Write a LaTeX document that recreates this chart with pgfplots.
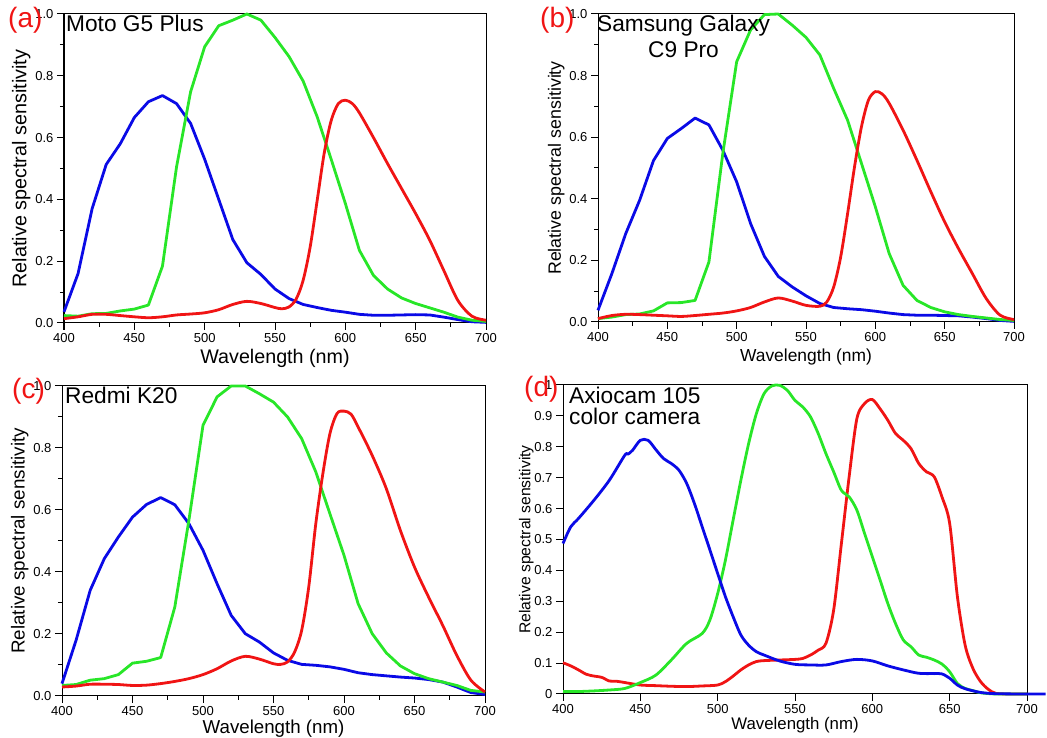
\documentclass[border=0pt]{standalone}
\usepackage{fontspec}
\setmainfont{Liberation Sans}
\usepackage{pgfplots}
\pgfplotsset{compat=1.18}
\definecolor{cred}{RGB}{240,20,20}
\definecolor{cgreen}{RGB}{40,230,40}
\definecolor{cblue}{RGB}{10,10,230}

\pgfplotsset{
  panel/.style={
    scale only axis, anchor=south west, clip=false,
    xmin=400, xmax=700, ymin=0, ymax=1,
    xtick={400,450,...,700},
    tick pos=left, tick align=outside,
    major tick length=7pt, minor tick length=4pt,
    every tick/.style={black, line width=1pt},
    axis line style={line width=1pt},
    /pgf/number format/assume math mode=true,
    tick label style={font=\fontsize{13}{15}\selectfont},
    xlabel={Wavelength (nm)}, ylabel={Relative spectral sensitivity},
    every axis plot/.append style={line width=2.8pt, line join=round},
  },
  phone/.style={
    panel,
    minor xtick={425,475,...,675},
    ytick={0,0.2,0.4,0.6,0.8,1.0}, minor ytick={0.1,0.3,0.5,0.7,0.9},
    yticklabel style={/pgf/number format/.cd, fixed, fixed zerofill, precision=1},
  },
}

\begin{document}
\begin{tikzpicture}
\useasboundingbox (0pt,0pt) rectangle (1047pt,738pt);

% (a) Moto G5 Plus
\begin{axis}[phone, at={(64pt,415pt)}, width=422pt, height=309pt,
  xlabel style={font=\fontsize{19.7}{22}\selectfont},
  ylabel style={font=\fontsize{19.8}{22}\selectfont}, ylabel shift=-2pt]
\addplot[cblue] table {
400 0.036
410 0.16
420 0.37
430 0.513
440 0.58
450 0.665
460 0.716
470 0.736
480 0.71
490 0.646
500 0.53
510 0.40
520 0.27
530 0.195
540 0.157
550 0.11
560 0.079
570 0.06
580 0.05
590 0.041
600 0.035
610 0.028
620 0.025
630 0.025
640 0.026
650 0.027
660 0.026
670 0.019
680 0.011
690 0.004
700 0.002
};
\addplot[cgreen] table {
400 0.024
410 0.022
420 0.03
430 0.031
440 0.039
450 0.045
460 0.058
470 0.184
480 0.505
490 0.748
500 0.894
510 0.962
520 0.98
530 1.0
540 0.98
550 0.924
560 0.862
570 0.783
580 0.667
590 0.529
600 0.387
610 0.235
620 0.154
630 0.11
640 0.081
650 0.063
660 0.049
670 0.035
680 0.019
690 0.009
700 0.005
};
\addplot[cred, smooth] table {
400 0.014
410 0.02
420 0.028
430 0.028
440 0.024
450 0.02
460 0.017
470 0.02
480 0.026
490 0.029
500 0.033
510 0.043
520 0.06
530 0.07
540 0.063
550 0.05
555 0.046
560 0.052
565 0.077
570 0.138
575 0.246
580 0.397
585 0.55
590 0.656
595 0.71
600 0.721
605 0.71
610 0.68
620 0.60
630 0.516
640 0.435
650 0.354
660 0.268
670 0.17
680 0.073
690 0.022
700 0.009
};
\end{axis}

% (b) Samsung Galaxy C9 Pro
\begin{axis}[phone, at={(598pt,416pt)}, width=416pt, height=308pt,
  xlabel style={font=\fontsize{17.4}{20}\selectfont},
  ylabel style={font=\fontsize{17.8}{20}\selectfont}, ylabel shift=-2pt]
\addplot[cblue] table {
400 0.038
410 0.157
420 0.287
430 0.395
440 0.524
450 0.596
460 0.628
470 0.662
480 0.64
490 0.558
500 0.455
510 0.32
520 0.213
530 0.148
540 0.114
550 0.085
560 0.06
570 0.047
580 0.043
590 0.04
600 0.035
610 0.029
620 0.024
630 0.022
640 0.022
650 0.021
660 0.02
670 0.016
680 0.011
690 0.005
700 0.002
};
\addplot[cgreen] table {
400 0.011
410 0.016
420 0.024
430 0.026
440 0.036
450 0.062
460 0.063
470 0.07
480 0.195
490 0.547
500 0.845
510 0.948
520 0.998
530 1.0
540 0.964
550 0.924
560 0.867
570 0.758
580 0.655
590 0.515
600 0.374
610 0.222
620 0.119
630 0.07
640 0.047
650 0.033
660 0.024
670 0.018
680 0.013
690 0.008
700 0.005
};
\addplot[cred, smooth] table {
400 0.011
410 0.021
420 0.025
430 0.024
440 0.022
450 0.02
460 0.018
470 0.021
480 0.025
490 0.029
500 0.036
510 0.047
520 0.065
530 0.078
540 0.068
550 0.054
560 0.051
565 0.065
570 0.114
575 0.211
580 0.352
585 0.504
590 0.634
595 0.72
600 0.748
605 0.74
610 0.71
620 0.623
630 0.525
640 0.423
650 0.325
660 0.238
670 0.157
680 0.076
690 0.022
700 0.008
};
\end{axis}

% (c) Redmi K20
\begin{axis}[phone, at={(62pt,42pt)}, width=423pt, height=310pt,
  xlabel style={font=\fontsize{18.7}{21}\selectfont}, xlabel shift=-3pt,
  ylabel style={font=\fontsize{18.8}{21}\selectfont}, ylabel shift=-2pt]
\addplot[cblue] table {
400 0.04
410 0.18
420 0.341
430 0.443
440 0.513
450 0.577
460 0.618
470 0.64
480 0.617
490 0.556
500 0.47
510 0.362
520 0.26
530 0.201
540 0.174
550 0.139
560 0.115
570 0.102
580 0.099
590 0.094
600 0.086
610 0.075
620 0.069
630 0.065
640 0.061
650 0.058
660 0.053
670 0.045
680 0.029
690 0.011
700 0.005
};
\addplot[cgreen] table {
400 0.034
410 0.037
420 0.051
430 0.056
440 0.069
450 0.106
460 0.112
470 0.124
480 0.287
490 0.567
500 0.873
510 0.965
520 1.0
530 1.0
540 0.975
550 0.948
560 0.9
570 0.83
580 0.723
590 0.588
600 0.454
610 0.298
620 0.201
630 0.139
640 0.097
650 0.072
660 0.056
670 0.045
680 0.034
690 0.018
700 0.013
};
\addplot[cred, smooth] table {
400 0.029
410 0.032
420 0.038
430 0.038
440 0.037
450 0.034
460 0.035
470 0.04
480 0.047
490 0.056
500 0.069
510 0.088
520 0.113
530 0.128
540 0.119
550 0.104
555 0.102
560 0.11
565 0.142
570 0.212
575 0.352
580 0.556
585 0.717
590 0.846
595 0.911
600 0.919
605 0.909
610 0.868
620 0.776
630 0.669
640 0.534
650 0.416
660 0.319
670 0.228
680 0.131
690 0.051
700 0.013
};
\end{axis}

% (d) Axiocam 105
\begin{axis}[panel, at={(563pt,44pt)}, width=464pt, height=309pt,
  ytick={0,0.1,0.2,0.3,0.4,0.5,0.6,0.7,0.8,0.9,1},
  xlabel style={font=\fontsize{16.8}{19}\selectfont}, xlabel shift=-3pt,
  ylabel style={font=\fontsize{15.7}{18}\selectfont}, ylabel shift=-6pt,
  every axis plot/.append style={smooth, tension=0.5}]
\addplot[cred] table {
400 0.101
405 0.091
410 0.078
415 0.064
420 0.058
425 0.054
430 0.042
435 0.041
440 0.037
450 0.029
460 0.027
470 0.025
480 0.024
490 0.026
500 0.029
505 0.04
510 0.058
515 0.078
520 0.094
525 0.105
530 0.108
540 0.11
550 0.112
555 0.115
560 0.126
565 0.142
570 0.164
575 0.272
580 0.487
585 0.703
590 0.891
595 0.94
600 0.953
605 0.923
610 0.886
615 0.843
620 0.821
625 0.794
630 0.746
635 0.719
640 0.703
645 0.638
650 0.552
655 0.315
660 0.158
665 0.083
670 0.04
675 0.015
680 0.002
690 0
700 0
};
\addplot[cgreen] table {
400 0.008
410 0.008
420 0.01
430 0.013
440 0.018
450 0.037
460 0.061
470 0.11
480 0.164
490 0.196
495 0.24
500 0.325
505 0.433
510 0.563
515 0.692
520 0.81
525 0.907
530 0.972
535 0.997
540 0.999
545 0.983
550 0.95
555 0.929
560 0.897
565 0.843
570 0.778
575 0.719
580 0.659
585 0.638
590 0.595
595 0.519
600 0.444
605 0.369
610 0.293
615 0.228
620 0.175
625 0.153
630 0.126
635 0.119
640 0.11
645 0.097
650 0.072
655 0.034
660 0.018
665 0.011
670 0.004
680 0
700 0
};
\addplot[cblue] table {
400 0.487
405 0.541
410 0.568
420 0.627
430 0.692
440 0.773
442 0.776
445 0.789
450 0.821
455 0.821
460 0.791
465 0.762
470 0.746
475 0.724
480 0.681
485 0.616
490 0.541
495 0.466
500 0.39
505 0.315
510 0.25
515 0.191
520 0.158
525 0.137
530 0.126
540 0.107
550 0.096
560 0.094
570 0.094
580 0.105
590 0.112
600 0.107
610 0.091
620 0.078
630 0.067
640 0.066
645 0.065
650 0.051
655 0.029
660 0.017
670 0.005
680 0.001
700 0
712 0
};
\end{axis}

\begin{scope}[every node/.style={inner sep=0pt, anchor=base west}]
\node[cred, font=\fontsize{28}{30}\selectfont] at (8pt,710pt) {(a)};
\node[cred, font=\fontsize{28}{30}\selectfont] at (540pt,710pt) {(b)};
\node[cred, font=\fontsize{28}{30}\selectfont] at (12pt,339pt) {(c)};
\node[cred, font=\fontsize{28}{30}\selectfont] at (524pt,341pt) {(d)};
\node[font=\fontsize{22.7}{25}\selectfont] at (66pt,706pt) {Moto G5 Plus};
\node[font=\fontsize{22.7}{25}\selectfont] at (597pt,706pt) {Samsung Galaxy};
\node[font=\fontsize{22.7}{25}\selectfont] at (648pt,680pt) {C9 Pro};
\node[font=\fontsize{22.7}{25}\selectfont] at (65pt,334pt) {Redmi K20};
\node[font=\fontsize{22.7}{25}\selectfont] at (569pt,334pt) {Axiocam 105};
\node[font=\fontsize{22.7}{25}\selectfont] at (569pt,313pt) {color camera};
\end{scope}
\end{tikzpicture}
\end{document}
